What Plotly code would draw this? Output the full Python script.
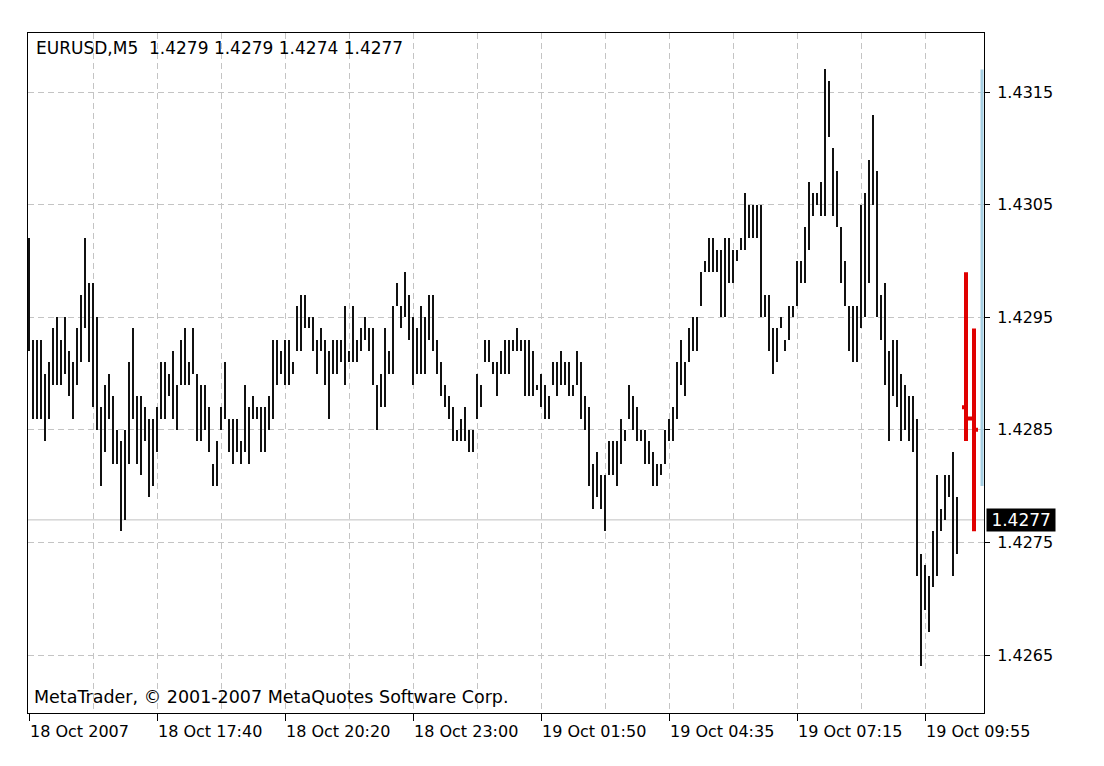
import plotly.graph_objects as go

# ---- data (EURUSD M5, high / low of each bar) ----
highs = [
    1.4302, 1.4293, 1.4293, 1.4293, 1.4290, 1.4291, 1.4294, 1.4295, 1.4293, 1.4295,
    1.4292, 1.4291, 1.4294, 1.4297, 1.4302, 1.4298, 1.4298, 1.4295, 1.4287, 1.4289,
    1.4290, 1.4288, 1.4285, 1.4284, 1.4285, 1.4291, 1.4294, 1.4288, 1.4288, 1.4287,
    1.4286, 1.4286, 1.4287, 1.4291, 1.4291, 1.4290, 1.4292, 1.4289, 1.4293, 1.4294,
    1.4291, 1.4294, 1.4290, 1.4289, 1.4289, 1.4287, 1.4282, 1.4284, 1.4287, 1.4291,
    1.4286, 1.4286, 1.4286, 1.4284, 1.4289, 1.4287, 1.4288, 1.4287, 1.4287, 1.4287,
    1.4288, 1.4293, 1.4293, 1.4292, 1.4293, 1.4293, 1.4291, 1.4296, 1.4297, 1.4297,
    1.4295, 1.4295, 1.4293, 1.4294, 1.4293, 1.4292, 1.4293, 1.4293, 1.4293, 1.4296,
    1.4292, 1.4296, 1.4293, 1.4294, 1.4295, 1.4294, 1.4294, 1.4289, 1.4290, 1.4294,
    1.4292, 1.4296, 1.4298, 1.4296, 1.4299, 1.4297, 1.4295, 1.4294, 1.4296, 1.4295,
    1.4297, 1.4297, 1.4293, 1.4291, 1.4289, 1.4288, 1.4287, 1.4285, 1.4286, 1.4287,
    1.4285, 1.4285, 1.4290, 1.4289, 1.4293, 1.4293, 1.4291, 1.4291, 1.4292, 1.4293,
    1.4293, 1.4293, 1.4294, 1.4293, 1.4293, 1.4293, 1.4292, 1.4289, 1.4290, 1.4289,
    1.4288, 1.4291, 1.4291, 1.4292, 1.4291, 1.4291, 1.4289, 1.4292, 1.4291, 1.4288,
    1.4287, 1.4282, 1.4283, 1.4281, 1.4281, 1.4284, 1.4284, 1.4284, 1.4286, 1.4285,
    1.4289, 1.4288, 1.4287, 1.4285, 1.4285, 1.4284, 1.4283, 1.4282, 1.4282, 1.4285,
    1.4286, 1.4287, 1.4291, 1.4293, 1.4291, 1.4294, 1.4295, 1.4295, 1.4299, 1.4300,
    1.4302, 1.4302, 1.4301, 1.4301, 1.4302, 1.4302, 1.4301, 1.4301, 1.4302, 1.4306,
    1.4305, 1.4305, 1.4305, 1.4305, 1.4297, 1.4297, 1.4294, 1.4294, 1.4295, 1.4293,
    1.4296, 1.4296, 1.4300, 1.4300, 1.4303, 1.4307, 1.4306, 1.4306, 1.4307, 1.4317,
    1.4316, 1.4310, 1.4308, 1.4303, 1.4300, 1.4296, 1.4296, 1.4296, 1.4305, 1.4306,
    1.4309, 1.4313, 1.4308, 1.4297, 1.4298, 1.4292, 1.4293, 1.4293, 1.4290, 1.4289,
    1.4288, 1.4288, 1.4286, 1.4274, 1.4273, 1.4272, 1.4276, 1.4281, 1.4278, 1.4281,
    1.4281, 1.4283, 1.4279,
]
lows = [
    1.4292, 1.4286, 1.4286, 1.4286, 1.4284, 1.4286, 1.4289, 1.4289, 1.4289, 1.4290,
    1.4288, 1.4286, 1.4289, 1.4291, 1.4294, 1.4291, 1.4287, 1.4285, 1.4280, 1.4283,
    1.4286, 1.4282, 1.4282, 1.4276, 1.4277, 1.4282, 1.4286, 1.4282, 1.4281, 1.4284,
    1.4279, 1.4280, 1.4283, 1.4286, 1.4286, 1.4288, 1.4286, 1.4285, 1.4289, 1.4289,
    1.4289, 1.4290, 1.4284, 1.4284, 1.4285, 1.4283, 1.4280, 1.4280, 1.4285, 1.4286,
    1.4283, 1.4282, 1.4283, 1.4282, 1.4283, 1.4282, 1.4286, 1.4286, 1.4283, 1.4283,
    1.4285, 1.4286, 1.4289, 1.4290, 1.4289, 1.4289, 1.4290, 1.4292, 1.4292, 1.4294,
    1.4294, 1.4292, 1.4290, 1.4292, 1.4289, 1.4286, 1.4290, 1.4290, 1.4291, 1.4289,
    1.4291, 1.4291, 1.4291, 1.4292, 1.4293, 1.4292, 1.4289, 1.4285, 1.4287, 1.4287,
    1.4290, 1.4290, 1.4296, 1.4294, 1.4295, 1.4293, 1.4289, 1.4290, 1.4290, 1.4290,
    1.4293, 1.4292, 1.4290, 1.4288, 1.4287, 1.4286, 1.4284, 1.4284, 1.4284, 1.4284,
    1.4283, 1.4283, 1.4286, 1.4287, 1.4291, 1.4291, 1.4290, 1.4288, 1.4290, 1.4290,
    1.4290, 1.4292, 1.4292, 1.4292, 1.4288, 1.4288, 1.4288, 1.42885, 1.4287, 1.4286,
    1.4286, 1.4289, 1.4288, 1.4289, 1.4289, 1.4288, 1.4288, 1.4289, 1.4286, 1.4285,
    1.4280, 1.4278, 1.4279, 1.4278, 1.4276, 1.4281, 1.4281, 1.4280, 1.4282, 1.4284,
    1.4286, 1.4285, 1.4284, 1.4284, 1.4282, 1.4282, 1.4280, 1.4280, 1.4281, 1.4282,
    1.4284, 1.4284, 1.4286, 1.4289, 1.4288, 1.4291, 1.4292, 1.4292, 1.4296, 1.4299,
    1.4299, 1.4299, 1.4299, 1.4295, 1.4295, 1.4298, 1.4298, 1.4300, 1.4301, 1.4301,
    1.4302, 1.4302, 1.4302, 1.4295, 1.4295, 1.4292, 1.4290, 1.4291, 1.4294, 1.4292,
    1.4293, 1.4295, 1.4296, 1.4298, 1.4298, 1.4301, 1.4304, 1.4305, 1.4304, 1.4304,
    1.4311, 1.4304, 1.4303, 1.4298, 1.4296, 1.4292, 1.4291, 1.4291, 1.4294, 1.4295,
    1.4298, 1.4305, 1.4295, 1.4293, 1.4289, 1.4284, 1.4288, 1.4287, 1.4284, 1.4285,
    1.4284, 1.4283, 1.4272, 1.4264, 1.4269, 1.4267, 1.4271, 1.4272, 1.4276, 1.4277,
    1.4279, 1.4272, 1.4274,
]
bar_index = list(range(len(highs)))

# red (indicator) bars at the right edge
red_index = [234.25, 236.25]
red_open = [1.4287, 1.4286]
red_high = [1.4299, 1.4294]
red_low = [1.4284, 1.4276]
red_close = [1.4286, 1.4285]

# light-blue vertical marker at the right edge
blue_index = [238.25, 238.25]
blue_prices = [1.4317, 1.4280]

bid_price = 1.4277
header_text = "EURUSD,M5  1.4279 1.4279 1.4274 1.4277"
footer_text = "MetaTrader, \u00a9 2001-2007 MetaQuotes Software Corp."

x_tick_index = [0, 32, 64, 96, 128, 160, 192, 224]
x_tick_labels = ["18 Oct 2007", "18 Oct 17:40", "18 Oct 20:20", "18 Oct 23:00",
                 "19 Oct 01:50", "19 Oct 04:35", "19 Oct 07:15", "19 Oct 09:55"]
y_tick_values = [1.4265, 1.4275, 1.4285, 1.4295, 1.4305, 1.4315]

FONT = "DejaVu Sans"
GRID = "#c4c4c4"
DASH = "6px,4px"

fig = go.Figure()

fig.add_trace(go.Bar(
    x=bar_index,
    base=lows,
    y=[h - l for h, l in zip(highs, lows)],
    width=0.5,
    marker=dict(color="#111111", line=dict(width=0)),
    hoverinfo="skip",
    showlegend=False,
))

fig.add_trace(go.Ohlc(
    x=red_index, open=red_open, high=red_high, low=red_low, close=red_close,
    increasing=dict(line=dict(color="#e00000", width=4)),
    decreasing=dict(line=dict(color="#e00000", width=4)),
    tickwidth=0.5,
    hoverinfo="skip",
    showlegend=False,
))

fig.add_trace(go.Scatter(
    x=blue_index, y=blue_prices, mode="lines",
    line=dict(color="#a6cfe3", width=3),
    hoverinfo="skip", showlegend=False,
))

fig.add_hline(y=bid_price, line=dict(color="#c0c0c0", width=1), layer="below")

fig.add_annotation(
    xref="paper", yref="y", x=1, y=bid_price, xanchor="left", yanchor="middle",
    xshift=2, text=f"\u2009{bid_price:.4f}\u2009", showarrow=False,
    font=dict(family=FONT, size=17, color="#ffffff"),
    bgcolor="#000000", borderpad=1,
)
fig.add_annotation(
    xref="paper", yref="paper", x=0, y=1, xanchor="left", yanchor="top",
    xshift=6, yshift=-3, text=header_text, showarrow=False,
    font=dict(family=FONT, size=17, color="#000000"),
)
fig.add_annotation(
    xref="paper", yref="paper", x=0, y=0, xanchor="left", yanchor="bottom",
    xshift=4, yshift=4, text=footer_text, showarrow=False,
    font=dict(family=FONT, size=17.5, color="#000000"),
)

# the page body adds an 8 px margin, so the figure is sized/placed to compensate
fig.update_layout(
    width=1096, height=758,
    margin=dict(l=20, r=120, t=25, b=53),
    paper_bgcolor="#ffffff", plot_bgcolor="#ffffff",
    font=dict(family=FONT, size=16, color="#000000"),
    showlegend=False,
    xaxis=dict(
        range=[-0.25, 238.75],
        tickmode="array", tickvals=x_tick_index, ticktext=x_tick_labels,
        ticks="outside", ticklen=7, tickcolor="#000000", tickwidth=1,
        ticklabelposition="outside right", ticklabelstandoff=4,
        showline=True, linecolor="#000000", linewidth=1, mirror=True,
        showgrid=True, gridcolor=GRID, griddash=DASH, gridwidth=1,
        minor=dict(tickmode="linear", tick0=0, dtick=16, showgrid=True,
                   gridcolor=GRID, griddash=DASH, gridwidth=1, ticks=""),
        zeroline=False, rangeslider=dict(visible=False), fixedrange=True,
    ),
    yaxis=dict(
        side="right",
        range=[1.425985, 1.432024],
        tickmode="array", tickvals=y_tick_values, tickformat=".4f",
        ticks="outside", ticklen=5, tickcolor="#000000", tickwidth=1,
        ticklabelstandoff=4,
        showline=True, linecolor="#000000", linewidth=1, mirror=True,
        showgrid=True, gridcolor=GRID, griddash=DASH, gridwidth=1,
        zeroline=False, fixedrange=True,
    ),
    bargap=0,
)

fig.write_html("out.html")
